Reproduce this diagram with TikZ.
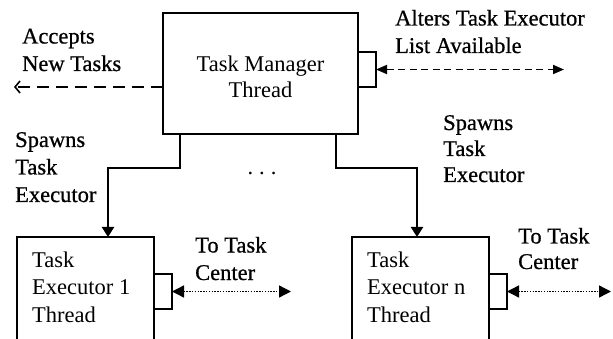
\documentclass[tikz,border=0pt]{standalone}
\usepackage{fontspec}
\setmainfont{Liberation Serif}
\newfontfamily\heavyserif{Liberation Serif}[FakeBold=0.7]
\usetikzlibrary{arrows.meta}
\begin{document}
\begin{tikzpicture}[x=1pt,y=-1pt,
  lbl/.style={font=\heavyserif\fontsize{22.5}{27.5}\selectfont,inner sep=0pt,align=left,anchor=base west},
  intext/.style={font=\fontsize{22.5}{27.5}\selectfont,inner sep=0pt,align=left,anchor=base west},
  box/.style={draw,line width=1.4pt,inner sep=0pt,outer sep=0pt},
  port/.style={draw,fill=white,line width=1.3pt,inner sep=0pt,outer sep=0pt,minimum width=18pt,minimum height=35pt},
  spawn/.style={line width=2.2pt,-{Triangle[length=10pt,width=12pt]}},
  accept/.style={line width=2pt,dash pattern=on 12pt off 7pt,-{Straight Barb[length=5pt,width=12pt,line width=1.6pt]}},
  alter/.style={line width=1.8pt,dash pattern=on 7pt off 4.5pt,{Triangle[length=11pt,width=9pt]}-{Triangle[length=11pt,width=9pt]}},
  center/.style={line width=1.4pt,dash pattern=on 1.4pt off 1.4pt,{Triangle[length=12pt,width=12pt]}-{Triangle[length=12pt,width=12pt]}}]
\useasboundingbox (0,0) rectangle (613,339);
\clip (0,0) rectangle (613,339);
\fill[white] (0,0) rectangle (613,339);

% manager thread
\node[box,minimum width=195pt,minimum height=121pt] (tm) at (260.5,73.5) {};
\node[intext,align=center,anchor=base] (tmtext) at (260.5,98) {Task Manager\\[-1.5pt]Thread};
\node[port,anchor=west] (tmport) at (tm.east |- 0,69.5) {};

% executor threads (their lower edges run off the page)
\node[box,minimum width=137pt,minimum height=120pt,anchor=north west] (e1) at (17,237) {};
\node[intext] (e1text) at (32,322) {Task\\Executor 1\\Thread};
\node[port,anchor=west] (e1port) at (e1.east |- 0,291.5) {};

\node[box,minimum width=137pt,minimum height=120pt,anchor=north west] (en) at (352,237) {};
\node[intext] (entext) at (367,322) {Task\\Executor n\\Thread};
\node[port,anchor=west] (enport) at (en.east |- 0,291.5) {};

% free ends of the outgoing arrows
\coordinate (newtasks) at (14,87);
\coordinate (alterend) at (564,69.5);
\coordinate (c1end) at (291,291.5);
\coordinate (cnend) at (611,291.5);

% spawning connectors
\draw[spawn] (180,0 |- tm.south) -- (180,168) -| (108,0 |- e1.north);
\draw[spawn] (336,0 |- tm.south) -- (336,168) -| (417,0 |- en.north);
\node[inner sep=0pt,font=\fontsize{22.5}{27}\selectfont] (dots) at (262,173) {.\hspace{6pt}.\hspace{6pt}.};

% external links
\draw[accept] (tm.west |- newtasks) -- (newtasks);
\draw[alter] (tmport.east) -- (alterend);
\draw[center] (e1port.east) -- (c1end);
\draw[center] (enport.east) -- (cnend);

% labels
\node[lbl] (acc) at (22,71) {Accepts\\New Tasks};
\node[lbl] (alt) at (395,53) {Alters Task Executor\\List Available};
\node[lbl] (sp1) at (15,202) {Spawns\\Task\\Executor};
\node[lbl,font=\heavyserif\fontsize{22.5}{26}\selectfont] (sp2) at (443,182) {Spawns\\Task\\Executor};
\node[lbl] (tc1) at (195,280) {To Task\\Center};
\node[lbl,font=\heavyserif\fontsize{22.5}{25.5}\selectfont] (tcn) at (518,269) {To Task\\Center};
\end{tikzpicture}
\end{document}
